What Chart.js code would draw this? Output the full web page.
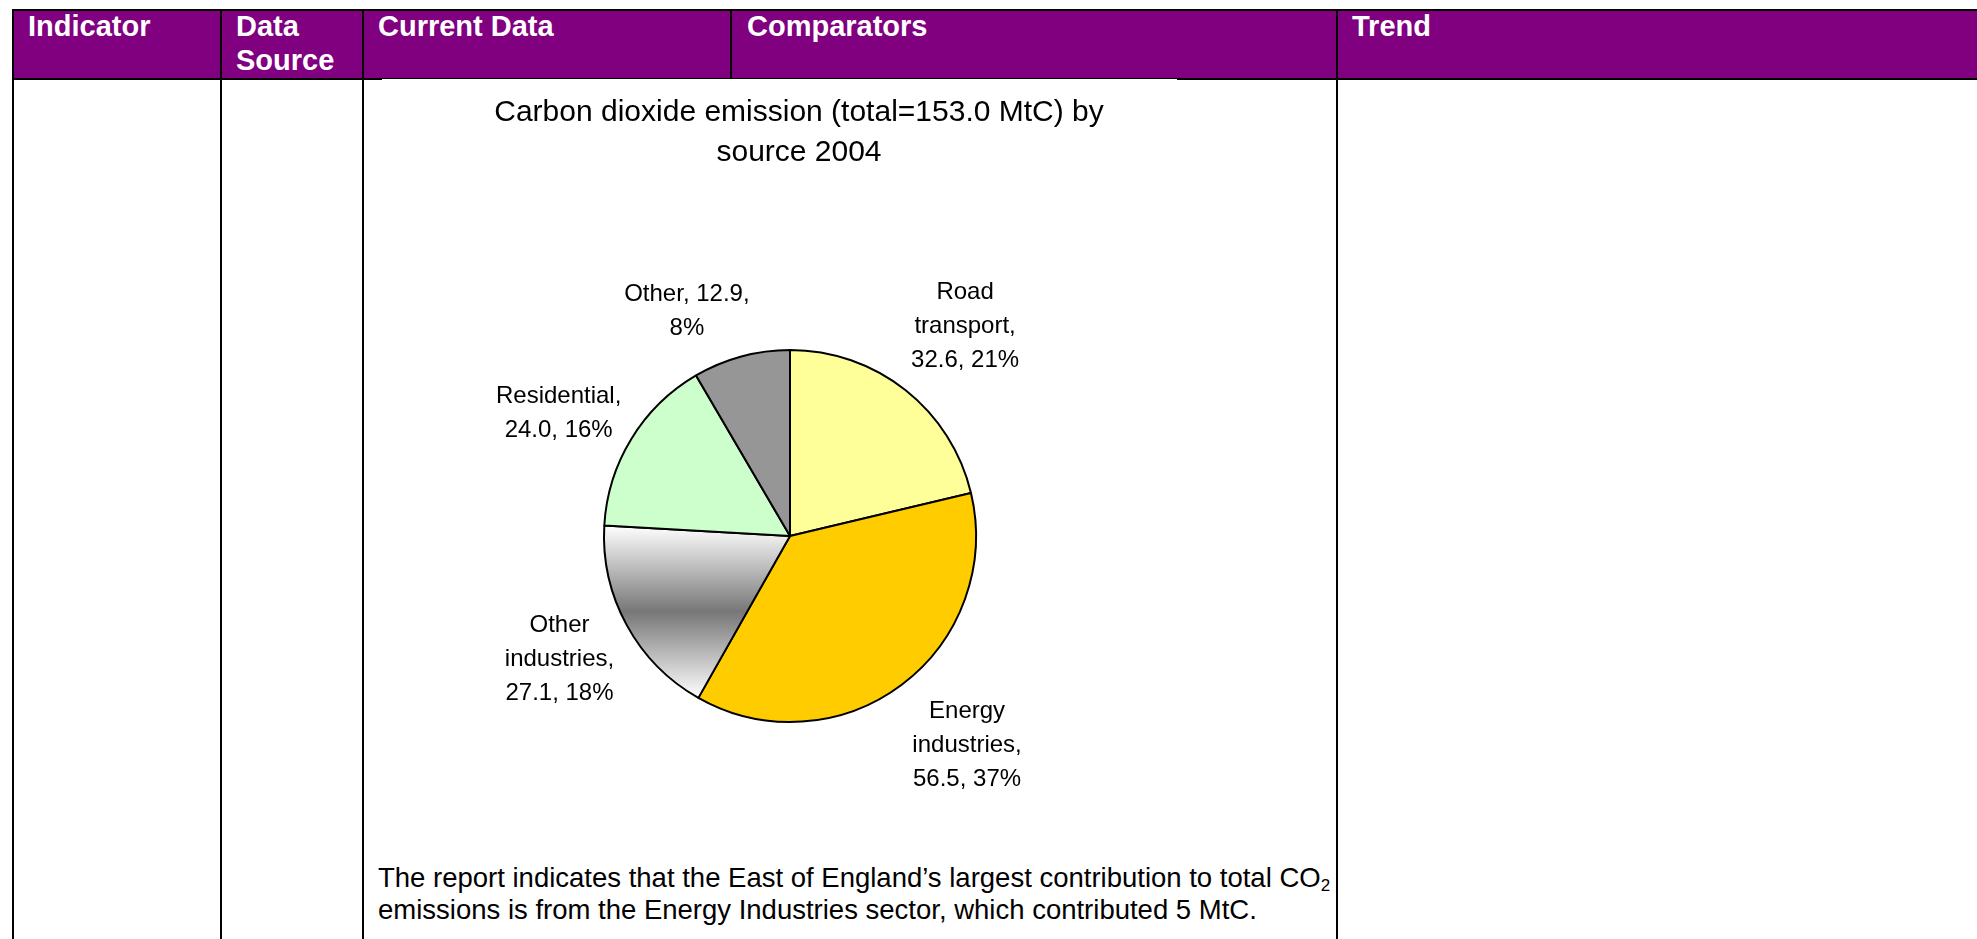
<!DOCTYPE html>
<html>
<head>
<meta charset="utf-8">
<script src="https://cdn.jsdelivr.net/npm/chart.js@4.4.1/dist/chart.umd.min.js"></script>
<style>
  html, body { margin:0; padding:0; background:#fff; width:1977px; height:939px; overflow:hidden;
    font-family:"Liberation Sans", Arial, Helvetica, sans-serif; }
  .hdr { position:absolute; left:12px; top:10px; width:1965px; height:69px; background:#800080; }
  .ln { position:absolute; background:#000; }
  .ht { position:absolute; top:9px; color:#fff; font-weight:bold; font-size:29px; line-height:34px; white-space:nowrap; }
  #chartbox { position:absolute; left:382px; top:79px; width:795px; height:781px; background:#fff; }
  #c { position:absolute; left:0; top:1px; }
  .note { position:absolute; left:378px; top:862px; font-size:27.5px; line-height:32px; white-space:nowrap; color:#000; }
  .note sub { font-size:0.62em; vertical-align:-0.25em; line-height:0; }
</style>
</head>
<body>
<div class="hdr"></div>
<div id="lines"></div>
<div id="heads"></div>
<div id="chartbox"><canvas id="c" width="795" height="780"></canvas></div>
<div class="note" id="note"></div>

<script>
// ---- data ----
const HEADERS = [['Indicator'], ['Data', 'Source'], ['Current Data'], ['Comparators'], ['Trend']];
const TITLE_LINES = ['Carbon dioxide emission (total=153.0 MtC) by', 'source 2004'];
const CATEGORIES = ['Road transport', 'Energy industries', 'Other industries', 'Residential', 'Other'];
const VALUES = [32.6, 56.5, 27.1, 24.0, 12.9];
const NOTE_LINES = ['The report indicates that the East of England\u2019s largest contribution to total CO<sub>2</sub>',
                    'emissions is from the Energy Industries sector, which contributed 5 MtC.'];

// ---- styles / layout ----
const COLORS = ['#FFFF99', '#FFCC00', 'gradient', '#CCFFCC', '#969696'];
const HEADER_X = [28, 236, 378, 747, 1352];
const LABEL_NUDGE = [[7, 1], [15, -8], [5, -7], [0, 17], [-40, 6]];

// table lines
const L = [
  [12, 9, 1965, 2],     // top
  [12, 78, 1965, 2],    // header bottom
  [12, 9, 2, 930],      // left
  [220, 9, 2, 930],
  [362, 9, 2, 930],
  [730, 9, 2, 70],
  [1336, 9, 2, 930]
];
const lh = document.getElementById('lines');
L.forEach(([x, y, w, h]) => {
  const d = document.createElement('div'); d.className = 'ln';
  d.style.cssText = `left:${x}px;top:${y}px;width:${w}px;height:${h}px`;
  lh.appendChild(d);
});
const hh = document.getElementById('heads');
HEADERS.forEach((lines, i) => {
  const d = document.createElement('div'); d.className = 'ht';
  d.style.left = HEADER_X[i] + 'px';
  d.innerHTML = lines.join('<br>');
  hh.appendChild(d);
});
document.getElementById('note').innerHTML = NOTE_LINES.join('<br>');

const FONT = '"Liberation Sans", Arial, Helvetica, sans-serif';
const total = VALUES.reduce((a, b) => a + b, 0);

function sliceFill(c) {
  const i = c.dataIndex;
  if (COLORS[i] !== 'gradient') return COLORS[i];
  const chart = c.chart, ca = chart.chartArea;
  if (!ca) return '#bbbbbb';
  const cy = (ca.top + ca.bottom) / 2, r = (Math.min(ca.width, ca.height) - 2) / 2;
  let cum = 0; for (let k = 0; k < i; k++) cum += VALUES[k];
  const a0 = -Math.PI / 2 + cum / total * 2 * Math.PI;
  const a1 = a0 + VALUES[i] / total * 2 * Math.PI;
  const ys = [cy, cy + r * Math.sin(a0), cy + r * Math.sin(a1)];
  [Math.PI / 2, 3 * Math.PI / 2].forEach(q => { if (q > a0 && q < a1) ys.push(cy + r * Math.sin(q)); });
  const y0 = Math.min(...ys), y1 = Math.max(...ys);
  const g = chart.ctx.createLinearGradient(0, y0, 0, y1);
  g.addColorStop(0, '#ffffff');
  g.addColorStop(0.5, '#777777');
  g.addColorStop(1, '#ffffff');
  return g;
}

function wrap(ctx, text, maxW) {
  const words = text.split(' '); const out = []; let cur = '';
  words.forEach(w => {
    const t = cur ? cur + ' ' + w : w;
    if (cur && ctx.measureText(t).width > maxW) { out.push(cur); cur = w; } else cur = t;
  });
  if (cur) out.push(cur);
  return out;
}

const textPlugin = {
  id: 'texts',
  afterDatasetsDraw(chart) {
    const ctx = chart.ctx, ca = chart.chartArea;
    ctx.save();
    ctx.fillStyle = '#000';
    ctx.textAlign = 'center';
    ctx.textBaseline = 'alphabetic';
    // title
    ctx.font = '30px ' + FONT;
    const tx = (ca.left + ca.right) / 2 + 9;
    TITLE_LINES.forEach((t, k) => ctx.fillText(t, tx, 30 + 40 * k + 0.358 * 30));
    // slice labels
    const size = 24, LH = 34, GAP = 20;
    ctx.font = size + 'px ' + FONT;
    const meta = chart.getDatasetMeta(0);
    meta.data.forEach((arc, i) => {
      const p = arc.getProps(['x', 'y', 'startAngle', 'endAngle', 'outerRadius'], true);
      const mid = (p.startAngle + p.endAngle) / 2;
      const dx = Math.cos(mid), dy = Math.sin(mid);
      const text = `${CATEGORIES[i]}, ${VALUES[i].toFixed(1)}, ${Math.round(VALUES[i] / total * 100)}%`;
      const lines = wrap(ctx, text, 135);
      const w = Math.max(...lines.map(l => ctx.measureText(l).width));
      const h = lines.length * LH;
      const t = Math.min(Math.abs(dx) > 1e-6 ? (w / 2) / Math.abs(dx) : Infinity,
                         Math.abs(dy) > 1e-6 ? (h / 2) / Math.abs(dy) : Infinity);
      const cx = p.x + (p.outerRadius + GAP + t) * dx + LABEL_NUDGE[i][0];
      const cy = p.y + (p.outerRadius + GAP + t) * dy + LABEL_NUDGE[i][1];
      lines.forEach((l, k) => ctx.fillText(l, cx, cy - h / 2 + LH * (k + 0.5) + 0.358 * size));
    });
    ctx.restore();
  }
};

new Chart(document.getElementById('c'), {
  type: 'pie',
  data: {
    labels: CATEGORIES,
    datasets: [{
      data: VALUES,
      backgroundColor: sliceFill,
      borderColor: '#000000',
      borderWidth: 2,
      hoverBorderWidth: 2,
      hoverOffset: 0,
      borderAlign: 'center'
    }]
  },
  options: {
    responsive: false,
    animation: false,
    devicePixelRatio: 1,
    layout: { padding: { left: 221, right: 200, top: 269, bottom: 137 } },
    plugins: {
      legend: { display: false },
      tooltip: { enabled: false },
      title: { display: false }
    },
    events: []
  },
  plugins: [textPlugin]
});
</script>
</body>
</html>
